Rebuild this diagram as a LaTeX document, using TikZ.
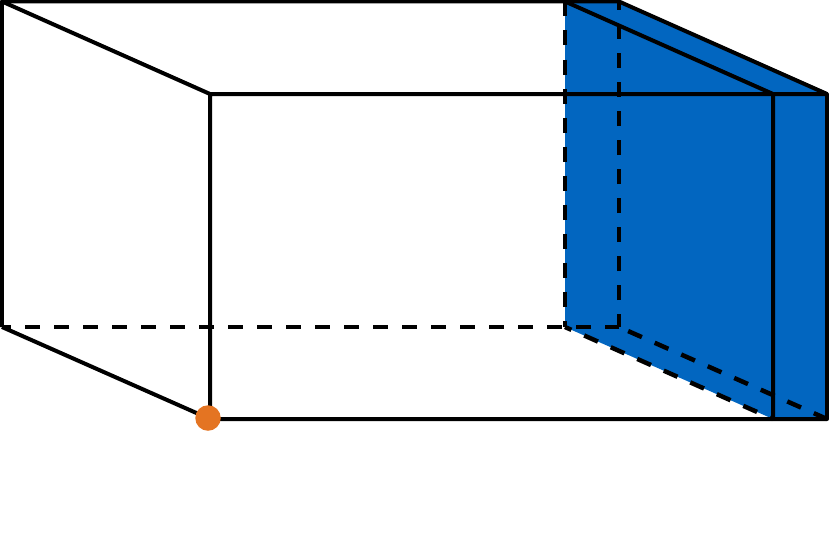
\documentclass[tikz,border=0pt]{standalone}
\tikzset{
	edge/.style={line width=.08cm,line join=round},
	hidden/.style={edge,line width=.09cm,dash pattern=on .3cm off .28cm},
}
\definecolor{plateblue}{RGB}{2,102,192}
\definecolor{dotorange}{RGB}{228,116,34}
\begin{document}
\begin{tikzpicture}
	\useasboundingbox (0,0) rectangle (16.58,10.7);
	% Corners
	\coordinate (backtl) at (.04,10.67);
	\coordinate (backbl) at (.04,4.16);
	\coordinate (fronttl) at (4.2,8.82);
	\coordinate (frontbl) at (4.2,2.32);
	\coordinate (backtr) at (12.38,10.67);
	\coordinate (backbr) at (12.38,4.16);
	\coordinate (fronttr) at (16.54,8.82);
	\coordinate (frontbr) at (16.54,2.32);
	\coordinate (platebacktl) at (11.3,10.67);
	\coordinate (platebackbl) at (11.3,4.16);
	\coordinate (platefronttl) at (15.46,8.82);
	\coordinate (platefrontbl) at (15.46,2.32);
	% Plate
	\fill[plateblue] (platebacktl) -- (backtr) -- (fronttr) -- (frontbr) -- (platefrontbl) -- (platebackbl) -- cycle;
	% Hidden edges
	\draw[hidden,dash phase=.12cm] (backbl) -- (backbr);
	\draw[hidden,dash phase=.04cm] (backbr) -- (backtr);
	\draw[hidden,dash phase=.38cm] (backbr) -- (frontbr);
	\draw[hidden] (platebacktl) -- (platebackbl);
	\draw[hidden,dash phase=.16cm] (platebackbl) -- (platefrontbl);
	% Box
	\draw[edge] (backbl) -- (backtl) -- (backtr) -- (fronttr) -- (frontbr) -- (frontbl) -- (fronttl) -- (fronttr);
	\draw[edge] (backtl) -- (fronttl);
	\draw[edge] (backbl) -- (frontbl);
	\draw[edge] (platebacktl) -- (platefronttl) -- (platefrontbl);
	% Origin
	\fill[dotorange] (4.16,2.34) circle (.255);
\end{tikzpicture}
\end{document}
